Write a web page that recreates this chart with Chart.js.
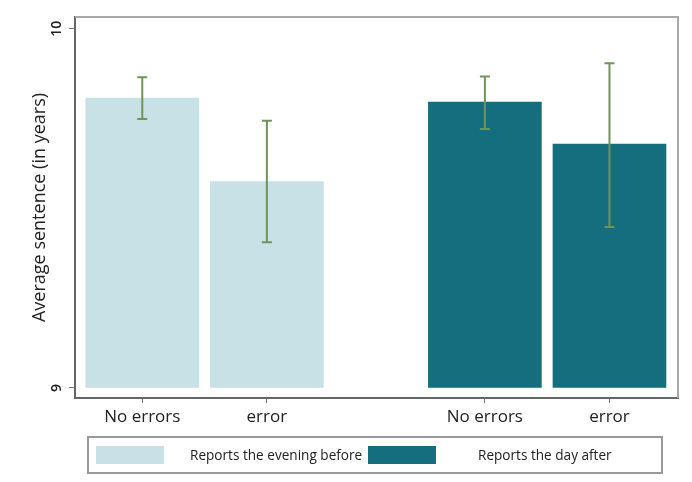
<!DOCTYPE html>
<html>
<head>
<meta charset="utf-8">
<script src="https://cdn.jsdelivr.net/npm/chart.js@4"></script>
<style>
  html, body { margin: 0; padding: 0; background: #fff; }
  #wrap { width: 692px; height: 482px; }
</style>
</head>
<body>
<div id="wrap"><canvas id="chart" width="692" height="482"></canvas></div>
<script>
// Average sentence by whether the report contained errors, split by report timing
const categories = ['No errors', 'error'];
const seriesNames = ['Reports the evening before', 'Reports the day after'];

const eveningMean = [9.807, 9.575];
const eveningLow  = [9.749, 9.406];
const eveningHigh = [9.865, 9.744];

const dayAfterMean = [9.796, 9.679];
const dayAfterLow  = [9.721, 9.448];
const dayAfterHigh = [9.867, 9.904];

const yTickValues = [9, 10];

const groupGap = 0.75; // empty space between the two report groups (in bar slots)
const slot = (g, i) => g * (categories.length + groupGap) + i + 1;

const colours = ['#c7e1e6', '#156e7d'];
const errColour = '#72935a';

const groups = [
  { mean: eveningMean, low: eveningLow, high: eveningHigh },
  { mean: dayAfterMean, low: dayAfterLow, high: dayAfterHigh }
];

const tickSlots = [];
const tickNames = [];
groups.forEach((grp, g) => categories.forEach((c, i) => { tickSlots.push(slot(g, i)); tickNames.push(c); }));

const datasets = groups.map((grp, g) => ({
  label: seriesNames[g],
  data: grp.mean.map((v, i) => ({ x: slot(g, i), y: v })),
  backgroundColor: colours[g],
  borderWidth: 0,
  base: 9,
  barThickness: 113
}));

// Confidence-interval whiskers drawn through the chart scales
const errorBars = {
  id: 'errorBars',
  afterDatasetsDraw(chart) {
    const { ctx, scales: { x, y } } = chart;
    ctx.save();
    ctx.strokeStyle = errColour;
    ctx.lineWidth = 2;
    groups.forEach((grp, g) => grp.mean.forEach((m, i) => {
      const px = x.getPixelForValue(slot(g, i));
      const top = y.getPixelForValue(grp.high[i]);
      const bot = y.getPixelForValue(grp.low[i]);
      ctx.beginPath();
      ctx.moveTo(px, top); ctx.lineTo(px, bot);
      ctx.moveTo(px - 5, top); ctx.lineTo(px + 5, top);
      ctx.moveTo(px - 5, bot); ctx.lineTo(px + 5, bot);
      ctx.stroke();
    }));
    ctx.restore();
  }
};

// Plot frame (top/right), rotated y tick labels and the boxed legend
const decorations = {
  id: 'decorations',
  afterDraw(chart) {
    const { ctx, chartArea: a, scales: { y } } = chart;
    ctx.save();
    ctx.strokeStyle = '#a8a8a8';
    ctx.lineWidth = 2;
    ctx.beginPath();
    ctx.moveTo(a.left, a.top); ctx.lineTo(a.right, a.top); ctx.lineTo(a.right, a.bottom);
    ctx.stroke();

    ctx.fillStyle = '#222';
    ctx.font = '600 14px "Open Sans"';
    ctx.textAlign = 'center';
    ctx.textBaseline = 'middle';
    yTickValues.forEach(v => {
      ctx.save();
      ctx.translate(a.left - 18, y.getPixelForValue(v));
      ctx.rotate(-Math.PI / 2);
      ctx.fillText(String(v), 0, 0);
      ctx.restore();
    });

    // legend
    const lx = a.left + 13, lw = 574, ly = 437, lh = 36;
    ctx.strokeStyle = '#999';
    ctx.lineWidth = 2;
    ctx.strokeRect(lx, ly, lw, lh);
    const keyX = [lx + 8, lx + 280];
    const textX = [lx + 102, lx + 390];
    ctx.font = '13.6px "Open Sans"';
    ctx.textAlign = 'left';
    seriesNames.forEach((name, g) => {
      ctx.fillStyle = colours[g];
      ctx.fillRect(keyX[g], ly + 9, 68, 18);
      ctx.fillStyle = '#222';
      ctx.fillText(name, textX[g], ly + lh / 2 + 1);
    });
    ctx.restore();
  }
};

new Chart(document.getElementById('chart'), {
  type: 'bar',
  data: { datasets },
  plugins: [errorBars, decorations],
  options: {
    responsive: false,
    animation: false,
    layout: { padding: { top: 17, right: 14, left: 0, bottom: 0 } },
    datasets: { bar: { grouped: false } },
    plugins: { legend: { display: false }, tooltip: { enabled: false } },
    scales: {
      x: {
        type: 'linear',
        min: 0.46,
        max: 5.3,
        offset: false,
        afterFit(s) { s.height = 84; },
        afterBuildTicks(s) { s.ticks = tickSlots.map(v => ({ value: v })); },
        ticks: {
          autoSkip: false,
          maxRotation: 0,
          padding: 4,
          color: '#222',
          font: { family: 'Open Sans', size: 17 },
          callback: (v) => tickNames[tickSlots.indexOf(v)]
        },
        grid: { offset: false, drawOnChartArea: false, drawTicks: true, tickLength: 5, color: '#777', lineWidth: 1 },
        border: { display: true, color: '#666', width: 2 }
      },
      y: {
        min: 8.972,
        max: 10.033,
        afterFit(s) { s.width = 75; },
        afterBuildTicks(s) { s.ticks = yTickValues.map(v => ({ value: v })); },
        ticks: { display: false },
        grid: { drawOnChartArea: false, drawTicks: true, tickLength: 6, color: '#777', lineWidth: 1 },
        border: { display: true, color: '#666', width: 2 },
        title: {
          display: true,
          text: 'Average sentence (in years)',
          color: '#222',
          font: { family: 'Open Sans', size: 18 },
          padding: { top: 29, bottom: 0 }
        }
      }
    }
  }
});
</script>
</body>
</html>
